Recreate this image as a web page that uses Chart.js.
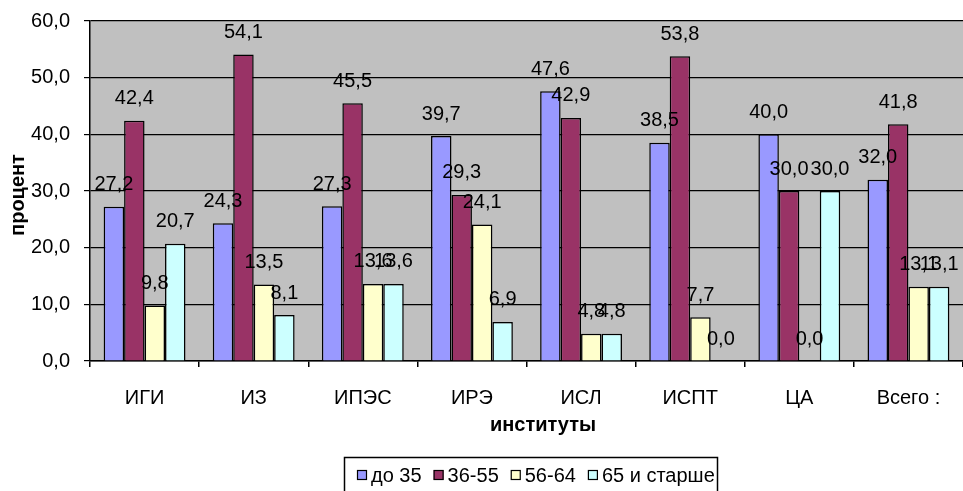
<!DOCTYPE html>
<html>
<head>
<meta charset="utf-8">
<script src="https://cdn.jsdelivr.net/npm/chart.js@4/dist/chart.umd.min.js"></script>
<style>
  html, body { margin: 0; padding: 0; background: #ffffff; }
  #wrap { width: 963px; height: 491px; position: relative; }
</style>
</head>
<body>
<div id="wrap"><canvas id="c" width="963" height="491"></canvas></div>
<script>
// Institutes (categories)
const institutes = ['ИГИ', 'ИЗ', 'ИПЭС', 'ИРЭ', 'ИСЛ', 'ИСПТ', 'ЦА', 'Всего :'];

// Share of staff by age group, percent
const ageUnder35 = [27.2, 24.3, 27.3, 39.7, 47.6, 38.5, 40.0, 32.0];
const age36to55  = [42.4, 54.1, 45.5, 29.3, 42.9, 53.8, 30.0, 41.8];
const age56to64  = [9.8, 13.5, 13.6, 24.1, 4.8, 7.7, 0.0, 13.1];
const age65plus  = [20.7, 8.1, 13.6, 6.9, 4.8, 0.0, 30.0, 13.1];

const seriesNames = ['до 35', '36-55', '56-64', '65 и старше'];
const yTicks = [0, 10, 20, 30, 40, 50, 60];

const FONT = '"Liberation Sans", Arial, sans-serif';
const FS = 20;
const fmt = v => v.toFixed(1).replace('.', ',');

// Gray plot background
const plotBackground = {
  id: 'plotBackground',
  beforeDraw(chart) {
    const { ctx, chartArea: a } = chart;
    ctx.save();
    ctx.fillStyle = '#c0c0c0';
    ctx.fillRect(a.left, a.top, a.right - a.left, a.bottom - a.top);
    ctx.restore();
  }
};

// Value labels above each bar
const valueLabels = {
  id: 'valueLabels',
  afterDatasetsDraw(chart) {
    const { ctx } = chart;
    ctx.save();
    ctx.font = FS + 'px ' + FONT;
    ctx.fillStyle = '#000';
    ctx.textAlign = 'center';
    ctx.textBaseline = 'middle';
    chart.data.datasets.forEach((ds, i) => {
      chart.getDatasetMeta(i).data.forEach((bar, j) => {
        ctx.fillText(fmt(ds.data[j]), bar.x, bar.y - 22);
      });
    });
    ctx.restore();
  }
};

// Axis titles and boxed legend
const annotations = {
  id: 'annotations',
  afterDraw(chart) {
    const { ctx } = chart;
    ctx.save();
    ctx.fillStyle = '#000';
    ctx.font = 'bold ' + FS + 'px ' + FONT;
    ctx.textAlign = 'center';
    ctx.textBaseline = 'middle';
    ctx.fillText('институты', 543, 425);
    ctx.save();
    ctx.translate(18, 195);
    ctx.rotate(-Math.PI / 2);
    ctx.fillText('процент', 0, 0);
    ctx.restore();

    // legend
    ctx.font = FS + 'px ' + FONT;
    ctx.textAlign = 'left';
    let x = 357;
    const cy = 475;
    chart.data.datasets.forEach(ds => {
      ctx.fillStyle = ds.backgroundColor;
      ctx.fillRect(x, cy - 5, 10, 10);
      ctx.strokeStyle = '#000';
      ctx.lineWidth = 1.2;
      ctx.strokeRect(x + 0.5, cy - 4.5, 9, 9);
      ctx.fillStyle = '#000';
      ctx.fillText(ds.label, x + 14, cy + 1);
      x += 14 + ctx.measureText(ds.label).width + 12;
    });
    ctx.strokeStyle = '#000';
    ctx.lineWidth = 1.5;
    ctx.strokeRect(344.5, 457.5, 373, 40);
    ctx.restore();
  }
};

const colors = ['#9999ff', '#993366', '#ffffcc', '#ccffff'];
const seriesData = [ageUnder35, age36to55, age56to64, age65plus];

new Chart(document.getElementById('c'), {
  type: 'bar',
  data: {
    labels: institutes,
    datasets: seriesData.map((d, i) => ({
      label: seriesNames[i],
      data: d,
      backgroundColor: colors[i],
      borderColor: '#000',
      borderWidth: 1.5,
      categoryPercentage: 0.75,
      barPercentage: 1.0
    }))
  },
  options: {
    responsive: false,
    animation: false,
    devicePixelRatio: 1,
    layout: { padding: { top: 21, right: 0, bottom: 0, left: 0 } },
    plugins: { legend: { display: false }, tooltip: { enabled: false } },
    scales: {
      x: {
        grid: { drawOnChartArea: false, color: '#000', lineWidth: 1.5, tickLength: 6, offset: true },
        border: { color: '#000', width: 1.5 },
        ticks: { color: '#000', font: { family: FONT, size: FS }, padding: 19, maxRotation: 0, autoSkip: false },
        afterFit(s) { s.height = 130; }
      },
      y: {
        min: 0, max: 60,
        afterBuildTicks(s) { s.ticks = yTicks.map(v => ({ value: v })); },
        grid: { color: '#000', lineWidth: 1.2, tickLength: 6 },
        border: { color: '#000', width: 1.5 },
        ticks: { color: '#000', font: { family: FONT, size: FS, lineHeight: 1.0 }, padding: 14, callback: v => fmt(v) },
        afterFit(s) { s.width = 90; s.paddingTop = 0; s.paddingBottom = 0; }
      }
    }
  },
  plugins: [plotBackground, valueLabels, annotations]
});
</script>
</body>
</html>
